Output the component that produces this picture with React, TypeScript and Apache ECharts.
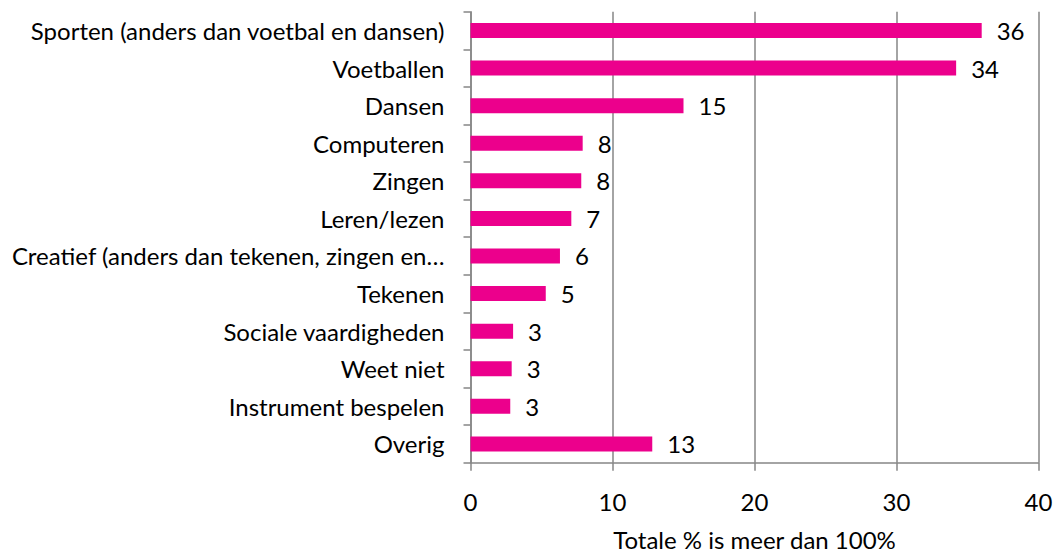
import React, { useEffect, useRef } from "react";
import * as echarts from "echarts";

const categories = [
  "Sporten (anders dan voetbal en dansen)",
  "Voetballen",
  "Dansen",
  "Computeren",
  "Zingen",
  "Leren/lezen",
  "Creatief (anders dan tekenen, zingen en…",
  "Tekenen",
  "Sociale vaardigheden",
  "Weet niet",
  "Instrument bespelen",
  "Overig",
];
const values = [36.0, 34.2, 15.0, 7.9, 7.8, 7.1, 6.3, 5.3, 3.0, 2.9, 2.8, 12.8];
const xTicks = { min: 0, max: 40, interval: 10 };
const xAxisTitle = "Totale % is meer dan 100%";

const FONT = "Lato";
const FS = 24;
const AXIS_COLOR = "#868686";

export default function App() {
  const ref = useRef<HTMLDivElement>(null);
  useEffect(() => {
    if (!ref.current) return;
    const chart = echarts.init(ref.current, undefined, { renderer: "svg" });
    chart.setOption({
      animation: false,
      backgroundColor: "#ffffff",
      textStyle: { fontFamily: FONT },
      grid: {
        left: 470.5,
        right: 23.5,
        top: 11.7,
        bottom: 93.3,
        containLabel: false,
        outerBoundsMode: "none",
      },
      xAxis: {
        type: "value",
        min: xTicks.min,
        max: xTicks.max,
        interval: xTicks.interval,
        name: xAxisTitle,
        nameLocation: "middle",
        nameGap: 65,
        nameTextStyle: { fontFamily: FONT, fontSize: FS, color: "#000" },
        axisLine: { show: true, lineStyle: { color: AXIS_COLOR, width: 1.5 } },
        axisTick: { show: true, length: 8, lineStyle: { color: AXIS_COLOR, width: 1.5 } },
        axisLabel: { fontFamily: FONT, fontSize: FS, color: "#000", margin: 27 },
        splitLine: { show: true, lineStyle: { color: AXIS_COLOR, width: 1.5 } },
      },
      yAxis: {
        type: "category",
        data: categories,
        inverse: true,
        axisLine: { show: true, lineStyle: { color: AXIS_COLOR, width: 1.5 } },
        axisTick: { show: true, length: 7, interval: 0, lineStyle: { color: AXIS_COLOR, width: 1.5 } },
        axisLabel: { fontFamily: FONT, fontSize: FS, color: "#000", margin: 26, interval: 0 },
        splitLine: { show: false },
      },
      series: [
        {
          type: "bar",
          data: values,
          barWidth: "40%",
          itemStyle: { color: "#EC008C" },
          label: {
            show: true,
            position: "right",
            distance: 15,
            fontFamily: FONT,
            fontSize: FS,
            color: "#000",
            formatter: (p: any) => String(Math.round(p.value)),
          },
        },
      ],
    });
    return () => chart.dispose();
  }, []);
  return (
    <div
      ref={ref}
      style={{ position: "absolute", left: 0, top: 0, width: 1062, height: 556 }}
    />
  );
}
